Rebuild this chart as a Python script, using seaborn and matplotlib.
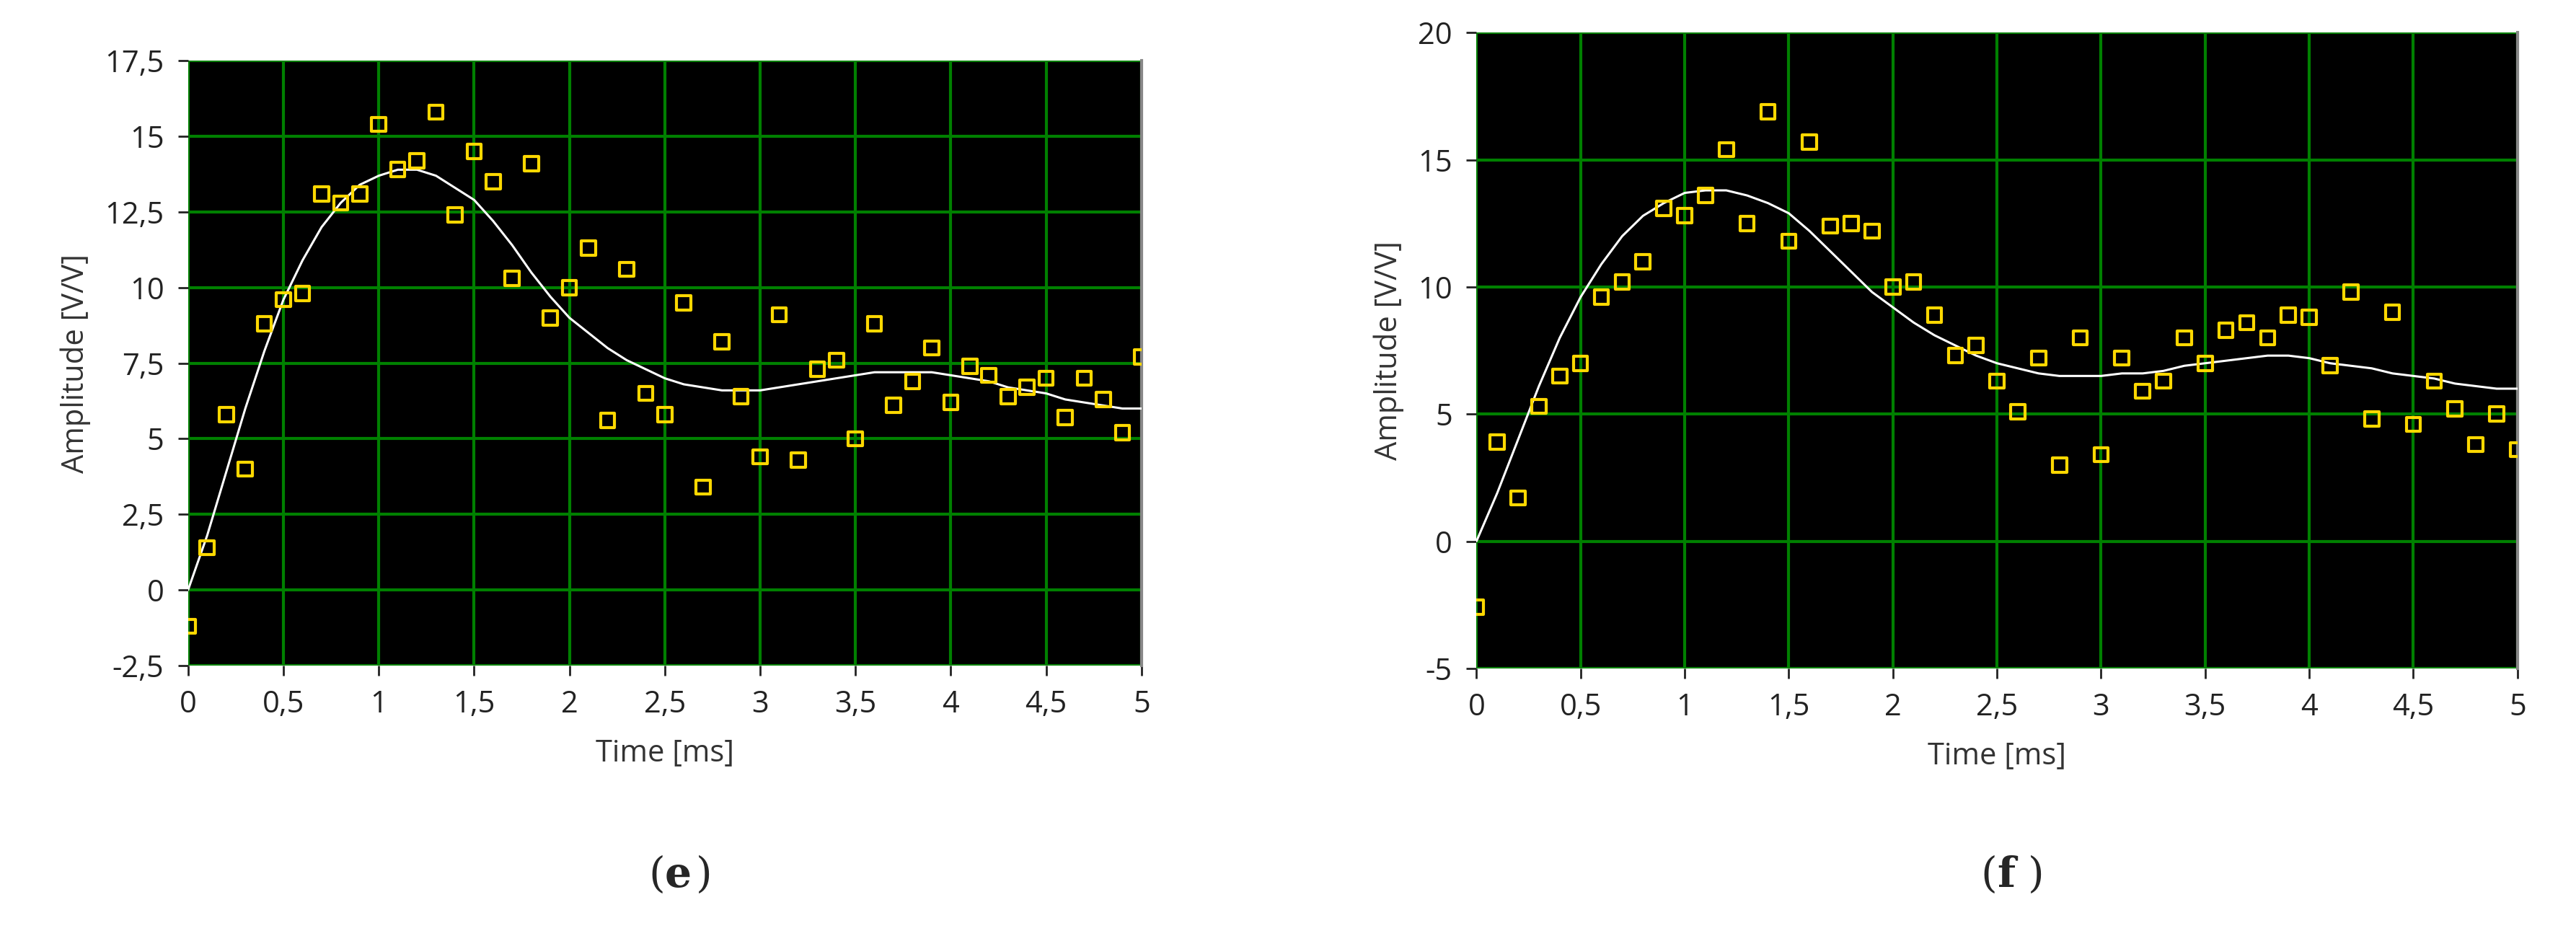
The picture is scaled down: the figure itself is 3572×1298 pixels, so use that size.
import numpy as np
import pandas as pd
import matplotlib
matplotlib.use('Agg')
import matplotlib.pyplot as plt
import seaborn as sns

time_ms = [round(0.1 * i, 1) for i in range(51)]

meas_e = [-1.2, 1.4, 5.8, 4.0, 8.8, 9.6, 9.8, 13.1, 12.8, 13.1,
          15.4, 13.9, 14.2, 15.8, 12.4, 14.5, 13.5, 10.3, 14.1, 9.0,
          10.0, 11.3, 5.6, 10.6, 6.5, 5.8, 9.5, 3.4, 8.2, 6.4,
          4.4, 9.1, 4.3, 7.3, 7.6, 5.0, 8.8, 6.1, 6.9, 8.0,
          6.2, 7.4, 7.1, 6.4, 6.7, 7.0, 5.7, 7.0, 6.3, 5.2, 7.7]
fit_e = [0.0, 1.8, 3.9, 6.0, 7.9, 9.6, 10.9, 12.0, 12.8, 13.4,
         13.7, 13.9, 13.9, 13.7, 13.3, 12.9, 12.2, 11.4, 10.5, 9.7,
         9.0, 8.5, 8.0, 7.6, 7.3, 7.0, 6.8, 6.7, 6.6, 6.6,
         6.6, 6.7, 6.8, 6.9, 7.0, 7.1, 7.2, 7.2, 7.2, 7.2,
         7.1, 7.0, 6.9, 6.7, 6.6, 6.5, 6.3, 6.2, 6.1, 6.0, 6.0]

meas_f = [-2.6, 3.9, 1.7, 5.3, 6.5, 7.0, 9.6, 10.2, 11.0, 13.1,
          12.8, 13.6, 15.4, 12.5, 16.9, 11.8, 15.7, 12.4, 12.5, 12.2,
          10.0, 10.2, 8.9, 7.3, 7.7, 6.3, 5.1, 7.2, 3.0, 8.0,
          3.4, 7.2, 5.9, 6.3, 8.0, 7.0, 8.3, 8.6, 8.0, 8.9,
          8.8, 6.9, 9.8, 4.8, 9.0, 4.6, 6.3, 5.2, 3.8, 5.0, 3.6]
fit_f = [0.0, 1.9, 4.0, 6.1, 8.0, 9.6, 10.9, 12.0, 12.8, 13.3,
         13.7, 13.8, 13.8, 13.6, 13.3, 12.9, 12.2, 11.4, 10.6, 9.8,
         9.2, 8.6, 8.1, 7.7, 7.3, 7.0, 6.8, 6.6, 6.5, 6.5,
         6.5, 6.6, 6.6, 6.7, 6.9, 7.0, 7.1, 7.2, 7.3, 7.3,
         7.2, 7.0, 6.9, 6.8, 6.6, 6.5, 6.4, 6.2, 6.1, 6.0, 6.0]

x_ticks = [0, 0.5, 1, 1.5, 2, 2.5, 3, 3.5, 4, 4.5, 5]
x_labels = ['0', '0,5', '1', '1,5', '2', '2,5', '3', '3,5', '4', '4,5', '5']
y_ticks_e = [-2.5, 0, 2.5, 5, 7.5, 10, 12.5, 15, 17.5]
y_labels_e = ['-2,5', '0', '2,5', '5', '7,5', '10', '12,5', '15', '17,5']
y_ticks_f = [-5, 0, 5, 10, 15, 20]
y_labels_f = ['-5', '0', '5', '10', '15', '20']

sns.set_style('white')
plt.rcParams['font.family'] = ['Open Sans', 'DejaVu Sans']

fig = plt.figure(figsize=(35.73, 12.98), dpi=100)
ax_e = fig.add_axes([0.073, 0.289, 0.370, 0.646])
ax_f = fig.add_axes([0.573, 0.286, 0.404, 0.679])

panels = [
    (ax_e, meas_e, fit_e, y_ticks_e, y_labels_e, (-2.5, 17.5), 'e'),
    (ax_f, meas_f, fit_f, y_ticks_f, y_labels_f, (-5, 20), 'f'),
]

for ax, meas, fit, yt, yl, ylim, tag in panels:
    df = pd.DataFrame({'t': time_ms, 'meas': meas, 'fit': fit})
    ax.set_facecolor('black')
    sns.lineplot(data=df, x='t', y='fit', ax=ax, color='white', linewidth=2.2, zorder=3)
    sns.scatterplot(data=df, x='t', y='meas', ax=ax, marker='s', s=200,
                    facecolor='none', edgecolor='#ffd800', linewidth=3, zorder=4,
                    clip_on=True)
    ax.set_xlim(0, 5)
    ax.set_ylim(*ylim)
    ax.set_xticks(x_ticks)
    ax.set_xticklabels(x_labels)
    ax.set_yticks(yt)
    ax.set_yticklabels(yl)
    ax.grid(True, color='#008000', linewidth=3)
    ax.set_axisbelow(True)
    ax.tick_params(axis='both', labelsize=30, colors='#222222', length=10, width=2,
                   direction='out', pad=14, bottom=True, left=True)
    for s in ax.spines.values():
        s.set_visible(False)
    ax.spines['right'].set_visible(True)
    ax.spines['right'].set_color('#888888')
    ax.spines['right'].set_linewidth(3)
    ax.set_xlabel('Time [ms]', fontsize=30, color='#333333', labelpad=18)
    ax.set_ylabel('Amplitude [V/V]', fontsize=30, color='#333333', labelpad=14)
    pos = ax.get_position()
    fig.text((pos.x0 + pos.x1) / 2, 0.065, '(', fontsize=42, family='DejaVu Serif',
             ha='right', va='center')
    fig.text((pos.x0 + pos.x1) / 2, 0.065, tag, fontsize=42, family='DejaVu Serif',
             fontweight='bold', ha='left', va='center')
    fig.text((pos.x0 + pos.x1) / 2 + 0.012, 0.065, ')', fontsize=42,
             family='DejaVu Serif', ha='left', va='center')

fig.savefig('out.png', dpi=100, facecolor='white')
